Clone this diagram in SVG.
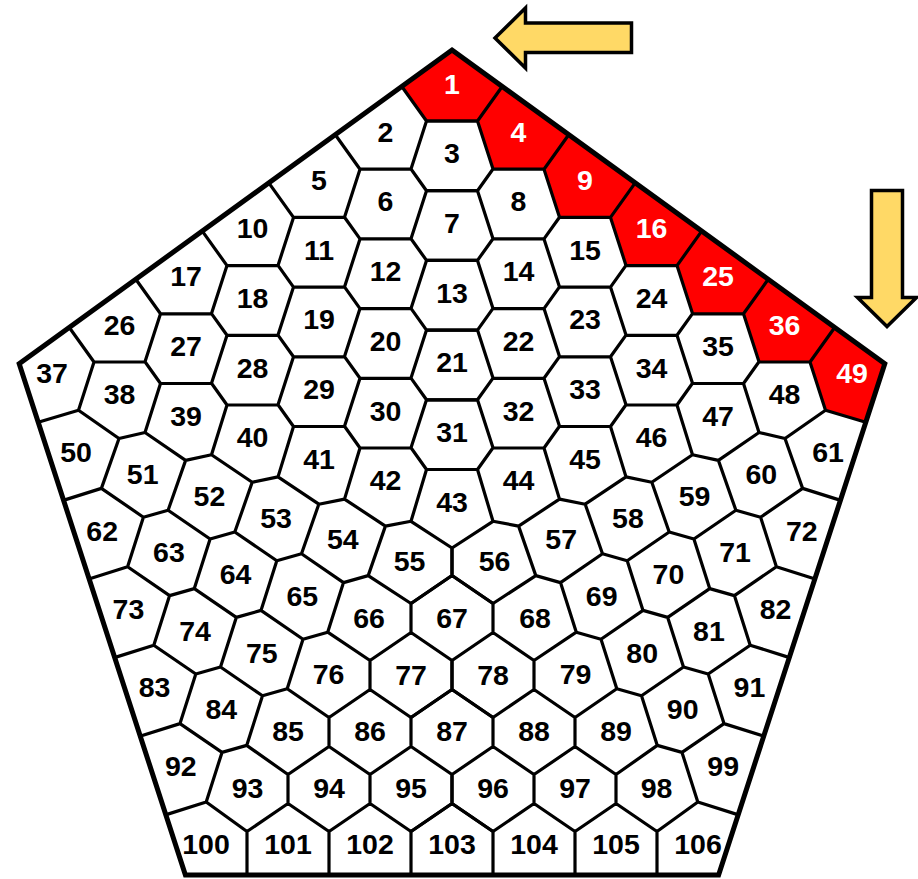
<svg xmlns="http://www.w3.org/2000/svg" xmlns:xlink="http://www.w3.org/1999/xlink" width="918" height="879" viewBox="0 0 918 879">
<style>
.edge{fill:none;stroke:#000;stroke-width:3.2;stroke-linejoin:round;stroke-linecap:round}
.outline{fill:none;stroke:#000;stroke-width:5;stroke-linejoin:miter}
.red{fill:#ff0000;stroke:none}
.arrow{fill:#ffd966;stroke:#000;stroke-width:3.5;stroke-linejoin:miter}
text{font-family:"Liberation Sans",Arial,sans-serif;font-weight:bold;font-size:28.5px;text-anchor:middle;fill:#000}
.w{fill:#fff}
</style>
<defs>
<path id="half" class="edge" d="
M401.8,86.5 L426.5,121 M335.3,134.7 L360,169.2 M268.8,182.9 L293.5,217.4 M202.3,231.1 L227,265.6 M135.8,279.3 L160.5,313.8 M69.3,327.5 L94,362
M426.5,190.7 L411,169 L426.5,121 L477.5,121
M426.5,260.4 L411,238.7 L426.5,190.7 L477.5,190.7
M360,238.9 L344.5,217.2 L360,169.2 L411,169.2
M426.5,330.1 L411,308.4 L426.5,260.4 L477.5,260.4
M360,308.6 L344.5,286.9 L360,238.9 L411,238.9
M293.5,287.1 L278,265.4 L293.5,217.4 L344.5,217.4
M426.5,399.8 L411,378.1 L426.5,330.1 L477.5,330.1
M360,378.3 L344.5,356.6 L360,308.6 L411,308.6
M293.5,356.8 L278,335.1 L293.5,287.1 L344.5,287.1
M227,335.3 L211.5,313.6 L227,265.6 L278,265.6
M426.5,469.5 L411,447.8 L426.5,399.8 L477.5,399.8
M360,448 L344.5,426.3 L360,378.3 L411,378.3
M293.5,426.5 L278,404.8 L293.5,356.8 L344.5,356.8
M227,405 L211.5,383.3 L227,335.3 L278,335.3
M160.5,383.5 L145,361.8 L160.5,313.8 L211.5,313.8
M411,521.3 L426.5,469.5 L477.5,469.5
M344.5,499.1 L360,448 L411,448
M278,476.9 L293.5,426.5 L344.5,426.5
M211.5,454.7 L227,405 L278,405
M145,432.5 L160.5,383.5 L211.5,383.5
M78.5,410.3 L94,362 L145,362
M38.2,422.2 L78.5,410.3 L119,438.5 L145,432.5 L185.6,460.4 L211.5,454.7 L252.2,482.3 L278,476.9 L318.8,504.2 L344.5,499.1 L385.4,526.1 L411,521.3 L452,548
M101.4,488.4 L119,438.5 M168.1,510.2 L185.6,460.4 M234.8,532 L252.2,482.3 M301.5,553.8 L318.8,504.2 M368.2,575.6 L385.4,526.1
M63.3,500.4 L101.4,488.4 L143.4,517.2
M127.6,566.8 L143.4,517.2 L168.1,510.2 L210.1,539
M194.3,588.6 L210.1,539 L234.8,532 L276.8,560.8
M261,610.4 L276.8,560.8 L301.5,553.8 L343.5,582.6
M327.7,632.2 L343.5,582.6 L368.2,575.6 L411,603.5
M88.9,579 L127.6,566.8 L169.6,595.6
M153.8,645.2 L169.6,595.6 L194.3,588.6 L236.3,617.4
M220.5,667 L236.3,617.4 L261,610.4 L303,639.2
M287.2,688.8 L303,639.2 L327.7,632.2 L370,660.5
M114.4,657.6 L153.8,645.2 L195.8,674
M180,723.6 L195.8,674 L220.5,667 L262.5,695.8
M246.7,745.4 L262.5,695.8 L287.2,688.8 L329,717.5
M139.9,736.3 L180,723.6 L222,752.4
M206.2,802 L222,752.4 L246.7,745.4 L288,774.5
M165.5,814.9 L206.2,802 L247,831.5
M411,632.5 L411,603.5 L452,575.5 L493,603.5
M370,689.5 L370,660.5 L411,632.5 L452,660.5
M329,746.5 L329,717.5 L370,689.5 L411,717.5
M411,746.5 L411,717.5 L452,689.5 L493,717.5
M288,803.5 L288,774.5 L329,746.5 L370,774.5
M370,803.5 L370,774.5 L411,746.5 L452,774.5
M247,875 L247,831.5 L288,803.5 L329,831.5
M329,875 L329,831.5 L370,803.5 L411,831.5
M411,875 L411,831.5 L452,803.5 L493,831.5
M452,548 L452,575.5 M452,660.5 L452,689.5 M452,774.5 L452,803.5
"/>
</defs>
<polygon id="pentagon-fill" points="452,50 884.8,363.8 718.6,875 185.4,875 19.2,363.8" fill="#fff"/>
<g id="red-cells">
<polygon class="red" points="452,50 502.2,86.5 477.5,121 426.5,121 401.8,86.5"/>
<polygon class="red" points="502.2,86.5 568.7,134.7 544,169.2 493,169 477.5,121"/>
<polygon class="red" points="568.7,134.7 635.2,182.9 610.5,217.4 559.5,217.2 544,169.2"/>
<polygon class="red" points="635.2,182.9 701.7,231.1 677,265.6 626,265.4 610.5,217.4"/>
<polygon class="red" points="701.7,231.1 768.2,279.3 743.5,313.8 692.5,313.6 677,265.6"/>
<polygon class="red" points="768.2,279.3 834.7,327.5 810,362 759,361.8 743.5,313.8"/>
<polygon class="red" points="834.7,327.5 884.8,363.8 865.8,422.2 825.5,410.3 810,362"/>
</g>
<g id="connectors">
<use xlink:href="#half" href="#half"/>
<use xlink:href="#half" href="#half" transform="matrix(-1 0 0 1 904 0)"/>
</g>
<polygon id="pentagon" class="outline" points="452,50 884.8,363.8 718.6,875 185.4,875 19.2,363.8"/>
<g id="cells">
<g id="cell-1"><text class="w" x="452" y="93.5">1</text></g>
<g id="cell-2"><text x="385.5" y="141.7">2</text></g>
<g id="cell-3"><text x="452" y="163.2">3</text></g>
<g id="cell-4"><text class="w" x="518.5" y="141.7">4</text></g>
<g id="cell-5"><text x="319" y="189.9">5</text></g>
<g id="cell-6"><text x="385.5" y="211.4">6</text></g>
<g id="cell-7"><text x="452" y="232.9">7</text></g>
<g id="cell-8"><text x="518.5" y="211.4">8</text></g>
<g id="cell-9"><text class="w" x="585" y="189.9">9</text></g>
<g id="cell-10"><text x="252.5" y="238.1">10</text></g>
<g id="cell-11"><text x="319" y="259.6">11</text></g>
<g id="cell-12"><text x="385.5" y="281.1">12</text></g>
<g id="cell-13"><text x="452" y="302.6">13</text></g>
<g id="cell-14"><text x="518.5" y="281.1">14</text></g>
<g id="cell-15"><text x="585" y="259.6">15</text></g>
<g id="cell-16"><text class="w" x="651.5" y="238.1">16</text></g>
<g id="cell-17"><text x="186" y="286.3">17</text></g>
<g id="cell-18"><text x="252.5" y="307.8">18</text></g>
<g id="cell-19"><text x="319" y="329.3">19</text></g>
<g id="cell-20"><text x="385.5" y="350.8">20</text></g>
<g id="cell-21"><text x="452" y="372.3">21</text></g>
<g id="cell-22"><text x="518.5" y="350.8">22</text></g>
<g id="cell-23"><text x="585" y="329.3">23</text></g>
<g id="cell-24"><text x="651.5" y="307.8">24</text></g>
<g id="cell-25"><text class="w" x="718" y="286.3">25</text></g>
<g id="cell-26"><text x="119.5" y="334.5">26</text></g>
<g id="cell-27"><text x="186" y="356">27</text></g>
<g id="cell-28"><text x="252.5" y="377.5">28</text></g>
<g id="cell-29"><text x="319" y="399">29</text></g>
<g id="cell-30"><text x="385.5" y="420.5">30</text></g>
<g id="cell-31"><text x="452" y="442">31</text></g>
<g id="cell-32"><text x="518.5" y="420.5">32</text></g>
<g id="cell-33"><text x="585" y="399">33</text></g>
<g id="cell-34"><text x="651.5" y="377.5">34</text></g>
<g id="cell-35"><text x="718" y="356">35</text></g>
<g id="cell-36"><text class="w" x="784.5" y="334.5">36</text></g>
<g id="cell-37"><text x="52" y="382.7">37</text></g>
<g id="cell-38"><text x="119.5" y="404.2">38</text></g>
<g id="cell-39"><text x="186" y="425.7">39</text></g>
<g id="cell-40"><text x="252.5" y="447.2">40</text></g>
<g id="cell-41"><text x="319" y="468.7">41</text></g>
<g id="cell-42"><text x="385.5" y="490.2">42</text></g>
<g id="cell-43"><text x="452" y="511.7">43</text></g>
<g id="cell-44"><text x="518.5" y="490.2">44</text></g>
<g id="cell-45"><text x="585" y="468.7">45</text></g>
<g id="cell-46"><text x="651.5" y="447.2">46</text></g>
<g id="cell-47"><text x="718" y="425.7">47</text></g>
<g id="cell-48"><text x="784.5" y="404.2">48</text></g>
<g id="cell-49"><text class="w" x="852" y="382.7">49</text></g>
<g id="cell-50"><text x="76" y="462.2">50</text></g>
<g id="cell-51"><text x="142.7" y="484">51</text></g>
<g id="cell-52"><text x="209.4" y="505.8">52</text></g>
<g id="cell-53"><text x="276.1" y="527.6">53</text></g>
<g id="cell-54"><text x="342.8" y="549.4">54</text></g>
<g id="cell-55"><text x="409.5" y="571.2">55</text></g>
<g id="cell-56"><text x="494.5" y="571.2">56</text></g>
<g id="cell-57"><text x="561.2" y="549.4">57</text></g>
<g id="cell-58"><text x="627.9" y="527.6">58</text></g>
<g id="cell-59"><text x="694.6" y="505.8">59</text></g>
<g id="cell-60"><text x="761.3" y="484">60</text></g>
<g id="cell-61"><text x="828" y="462.2">61</text></g>
<g id="cell-62"><text x="102.2" y="540.6">62</text></g>
<g id="cell-63"><text x="168.9" y="562.4">63</text></g>
<g id="cell-64"><text x="235.6" y="584.2">64</text></g>
<g id="cell-65"><text x="302.3" y="606">65</text></g>
<g id="cell-66"><text x="369" y="627.8">66</text></g>
<g id="cell-67"><text x="452" y="628.2">67</text></g>
<g id="cell-68"><text x="535" y="627.8">68</text></g>
<g id="cell-69"><text x="601.7" y="606">69</text></g>
<g id="cell-70"><text x="668.4" y="584.2">70</text></g>
<g id="cell-71"><text x="735.1" y="562.4">71</text></g>
<g id="cell-72"><text x="801.8" y="540.6">72</text></g>
<g id="cell-73"><text x="128.4" y="619">73</text></g>
<g id="cell-74"><text x="195.1" y="640.8">74</text></g>
<g id="cell-75"><text x="261.8" y="662.6">75</text></g>
<g id="cell-76"><text x="328.5" y="684.4">76</text></g>
<g id="cell-77"><text x="411" y="684.7">77</text></g>
<g id="cell-78"><text x="493" y="684.7">78</text></g>
<g id="cell-79"><text x="575.5" y="684.4">79</text></g>
<g id="cell-80"><text x="642.2" y="662.6">80</text></g>
<g id="cell-81"><text x="708.9" y="640.8">81</text></g>
<g id="cell-82"><text x="775.6" y="619">82</text></g>
<g id="cell-83"><text x="154.6" y="697.4">83</text></g>
<g id="cell-84"><text x="221.3" y="719.2">84</text></g>
<g id="cell-85"><text x="288" y="741">85</text></g>
<g id="cell-86"><text x="370" y="741.2">86</text></g>
<g id="cell-87"><text x="452" y="741.2">87</text></g>
<g id="cell-88"><text x="534" y="741.2">88</text></g>
<g id="cell-89"><text x="616" y="741">89</text></g>
<g id="cell-90"><text x="682.7" y="719.2">90</text></g>
<g id="cell-91"><text x="749.4" y="697.4">91</text></g>
<g id="cell-92"><text x="180.8" y="775.8">92</text></g>
<g id="cell-93"><text x="247.5" y="797.6">93</text></g>
<g id="cell-94"><text x="329" y="797.7">94</text></g>
<g id="cell-95"><text x="411" y="797.7">95</text></g>
<g id="cell-96"><text x="493" y="797.7">96</text></g>
<g id="cell-97"><text x="575" y="797.7">97</text></g>
<g id="cell-98"><text x="656.5" y="797.6">98</text></g>
<g id="cell-99"><text x="723.2" y="775.8">99</text></g>
<g id="cell-100"><text x="206" y="854.2">100</text></g>
<g id="cell-101"><text x="288" y="854.2">101</text></g>
<g id="cell-102"><text x="370" y="854.2">102</text></g>
<g id="cell-103"><text x="452" y="854.2">103</text></g>
<g id="cell-104"><text x="534" y="854.2">104</text></g>
<g id="cell-105"><text x="616" y="854.2">105</text></g>
<g id="cell-106"><text x="698" y="854.2">106</text></g>
</g>
<g id="arrows">
<polygon id="arrow-left" class="arrow" points="495,38 525.5,8 525.5,23 631.5,23 631.5,52.5 525.5,52.5 525.5,68"/>
<polygon id="arrow-down" class="arrow" points="871.5,190.5 902.5,190.5 902.5,297.5 916.5,297.5 887,326.5 857.5,297.5 871.5,297.5"/>
</g>
</svg>
